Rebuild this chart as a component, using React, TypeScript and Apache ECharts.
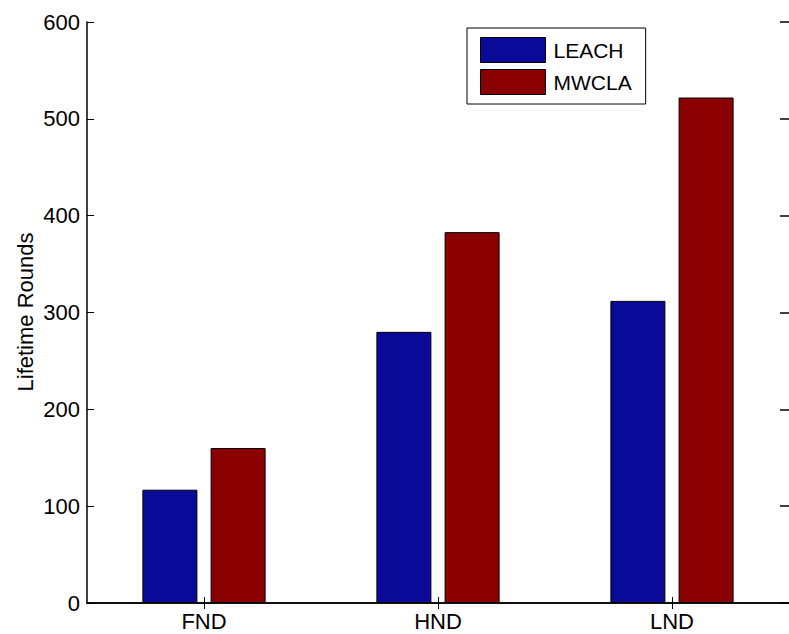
import React, { useEffect, useRef } from "react";
import * as echarts from "echarts";

const categories = ["FND", "HND", "LND"];
const leachValues = [117, 280, 312];
const mwclaValues = [160, 383, 522];
const yTicks = { min: 0, max: 600, interval: 100 };
const seriesNames = ["LEACH", "MWCLA"];
const yAxisTitle = "Lifetime Rounds";

const FONT = "'Liberation Sans', Arial, Helvetica, sans-serif";
const BLUE = "#0a0a98";
const RED = "#8a0000";
const FS = 22;

export default function App() {
  const ref = useRef<HTMLDivElement>(null);
  useEffect(() => {
    if (!ref.current) return;
    const chart = echarts.init(ref.current, null, { renderer: "svg" });
    const axisLine = { show: true, lineStyle: { color: "#000", width: 1.5 } };
    chart.setOption({
      animation: false,
      backgroundColor: "#fff",
      textStyle: { fontFamily: FONT },
      grid: { left: 87, right: 0, top: 22, bottom: 31, containLabel: false },
      legend: {
        data: seriesNames,
        left: 467,
        top: 28,
        orient: "vertical",
        itemWidth: 65,
        itemHeight: 25,
        itemGap: 6,
        padding: [9, 14, 9, 13],
        borderColor: "#000",
        borderWidth: 1,
        backgroundColor: "#fff",
        textStyle: { fontSize: 21, color: "#000", fontFamily: FONT, padding: [0, 0, 0, 3] },
        itemStyle: { borderColor: "#000", borderWidth: 1 },
        icon: "rect",
      },
      xAxis: [
        {
          type: "category",
          data: categories,
          position: "bottom",
          axisLine,
          axisTick: { show: true, inside: true, alignWithLabel: true, length: 6, lineStyle: { color: "#000" } },
          axisLabel: { color: "#000", fontSize: FS, margin: 7, fontFamily: FONT },
          splitLine: { show: false },
        },
        {
          type: "category",
          data: categories,
          position: "top",
          axisLine,
          axisTick: { show: true, inside: true, alignWithLabel: true, length: 6, lineStyle: { color: "#000" } },
          axisLabel: { show: false },
          splitLine: { show: false },
        },
      ],
      yAxis: [
        {
          type: "value",
          min: yTicks.min,
          max: yTicks.max,
          interval: yTicks.interval,
          position: "left",
          axisLine,
          axisTick: { show: true, inside: true, length: 7, lineStyle: { color: "#000" } },
          axisLabel: { color: "#000", fontSize: FS, margin: 7, fontFamily: FONT },
          splitLine: { show: false },
        },
        {
          type: "value",
          min: yTicks.min,
          max: yTicks.max,
          interval: yTicks.interval,
          position: "right",
          axisLine: { show: false },
          axisTick: { show: true, inside: true, length: 9, lineStyle: { color: "#000", width: 1.5 } },
          axisLabel: { show: false },
          splitLine: { show: false },
        },
      ],
      graphic: [
        {
          type: "text",
          x: 25,
          y: 312,
          rotation: Math.PI / 2,
          style: {
            text: yAxisTitle,
            fontSize: FS,
            fontFamily: FONT,
            fill: "#000",
            align: "center",
            verticalAlign: "middle",
          },
        },
      ],
      series: [
        {
          name: seriesNames[0],
          type: "bar",
          data: leachValues,
          barWidth: 55,
          barGap: "24%",
          itemStyle: { color: BLUE, borderColor: "#000", borderWidth: 1 },
        },
        {
          name: seriesNames[1],
          type: "bar",
          data: mwclaValues,
          barWidth: 55,
          barGap: "24%",
          itemStyle: { color: RED, borderColor: "#000", borderWidth: 1 },
        },
      ],
    });
    return () => chart.dispose();
  }, []);
  return (
    <div
      ref={ref}
      style={{ position: "fixed", left: 0, top: 0, width: 789, height: 634, background: "#fff" }}
    />
  );
}
